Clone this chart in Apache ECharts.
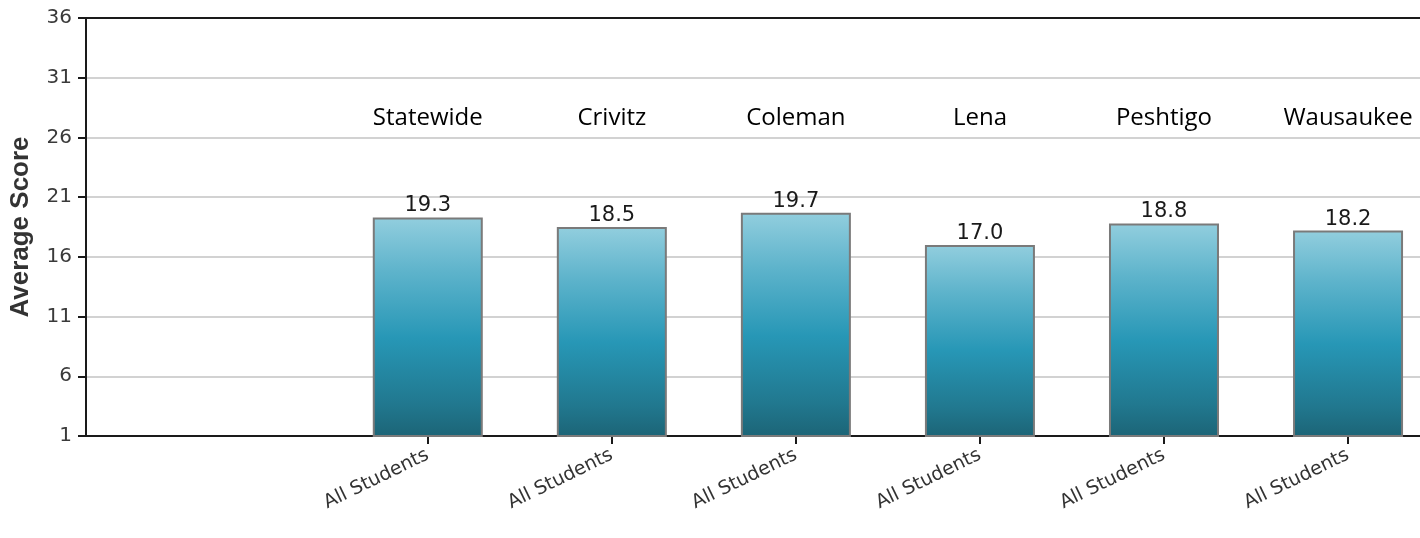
<!DOCTYPE html>
<html>
<head>
<meta charset="utf-8">
<style>
  html, body { margin: 0; padding: 0; background: #ffffff; }
  #chart { width: 1420px; height: 538px; }
</style>
<script src="https://cdn.jsdelivr.net/npm/echarts@6/dist/echarts.min.js"></script>
</head>
<body>
<div id="chart"></div>
<script>
// ---- data ----
const districts = ['Statewide', 'Crivitz', 'Coleman', 'Lena', 'Peshtigo', 'Wausaukee'];
const groupLabels = ['All Students', 'All Students', 'All Students', 'All Students', 'All Students', 'All Students'];
const scores = [19.3, 18.5, 19.7, 17.0, 18.8, 18.2];
const yTickMin = 1;
const yTickMax = 36;
const yTickStep = 5;
const yAxisTitle = 'Average Score';

const positions = districts.map((_, i) => i);

const chart = echarts.init(document.getElementById('chart'), null, { renderer: 'canvas' });

const xMin = -1.857, xMax = 5.391;

const option = {
  animation: false,
  backgroundColor: '#ffffff',
  grid: { left: 85, right: 0, top: 18, bottom: 102, containLabel: false },
  xAxis: [
    {
      type: 'value',
      position: 'bottom',
      min: xMin,
      max: xMax,
      splitLine: { show: false },
      axisLine: { show: true, onZero: false, lineStyle: { color: '#1a1a1a', width: 2 } },
      axisTick: { show: true, length: 8, lineStyle: { color: '#1a1a1a', width: 2 }, customValues: positions },
      axisLabel: {
        customValues: positions,
        rotate: 26,
        margin: 18,
        fontFamily: 'DejaVu Sans',
        fontSize: 19,
        color: '#333333',
        formatter: v => groupLabels[Math.round(v)]
      }
    },
    {
      type: 'value',
      position: 'top',
      min: xMin,
      max: xMax,
      splitLine: { show: false },
      axisLine: { show: true, onZero: false, lineStyle: { color: '#1a1a1a', width: 2 } },
      axisTick: { show: false },
      axisLabel: {
        customValues: positions,
        inside: true,
        margin: 88,
        fontFamily: 'Open Sans',
        fontSize: 24,
        color: '#000000',
        formatter: v => districts[Math.round(v)]
      }
    }
  ],
  yAxis: {
    type: 'value',
    min: yTickMin,
    max: yTickMax,
    interval: yTickStep,
    name: yAxisTitle,
    nameLocation: 'middle',
    nameGap: 52,
    nameTextStyle: { fontFamily: 'Liberation Sans', fontWeight: 'bold', fontSize: 26, color: '#333333' },
    axisLine: { show: true, onZero: false, lineStyle: { color: '#1a1a1a', width: 2 } },
    axisTick: { show: true, length: 8, lineStyle: { color: '#1a1a1a', width: 2 } },
    axisLabel: { margin: 14, fontFamily: 'DejaVu Sans', fontSize: 20, color: '#3a3a3a' },
    splitLine: { show: true, lineStyle: { color: '#d2d2d2', width: 2 } }
  },
  series: [
    {
      type: 'bar',
      xAxisIndex: 0,
      barWidth: 110,
      clip: true,
      data: positions.map(i => [i, scores[i]]),
      itemStyle: {
        borderColor: '#7a7a7a',
        borderWidth: 2,
        color: new echarts.graphic.LinearGradient(0, 0, 0, 1, [
          { offset: 0, color: '#92cede' },
          { offset: 0.25, color: '#5db3cb' },
          { offset: 0.55, color: '#2797b6' },
          { offset: 0.85, color: '#21788f' },
          { offset: 1, color: '#1c6476' }
        ])
      },
      label: {
        show: true,
        position: 'top',
        distance: 1,
        fontFamily: 'DejaVu Sans',
        fontSize: 21,
        color: '#1a1a1a',
        formatter: p => p.value[1].toFixed(1)
      }
    }
  ]
};

chart.setOption(option);
</script>
</body>
</html>
